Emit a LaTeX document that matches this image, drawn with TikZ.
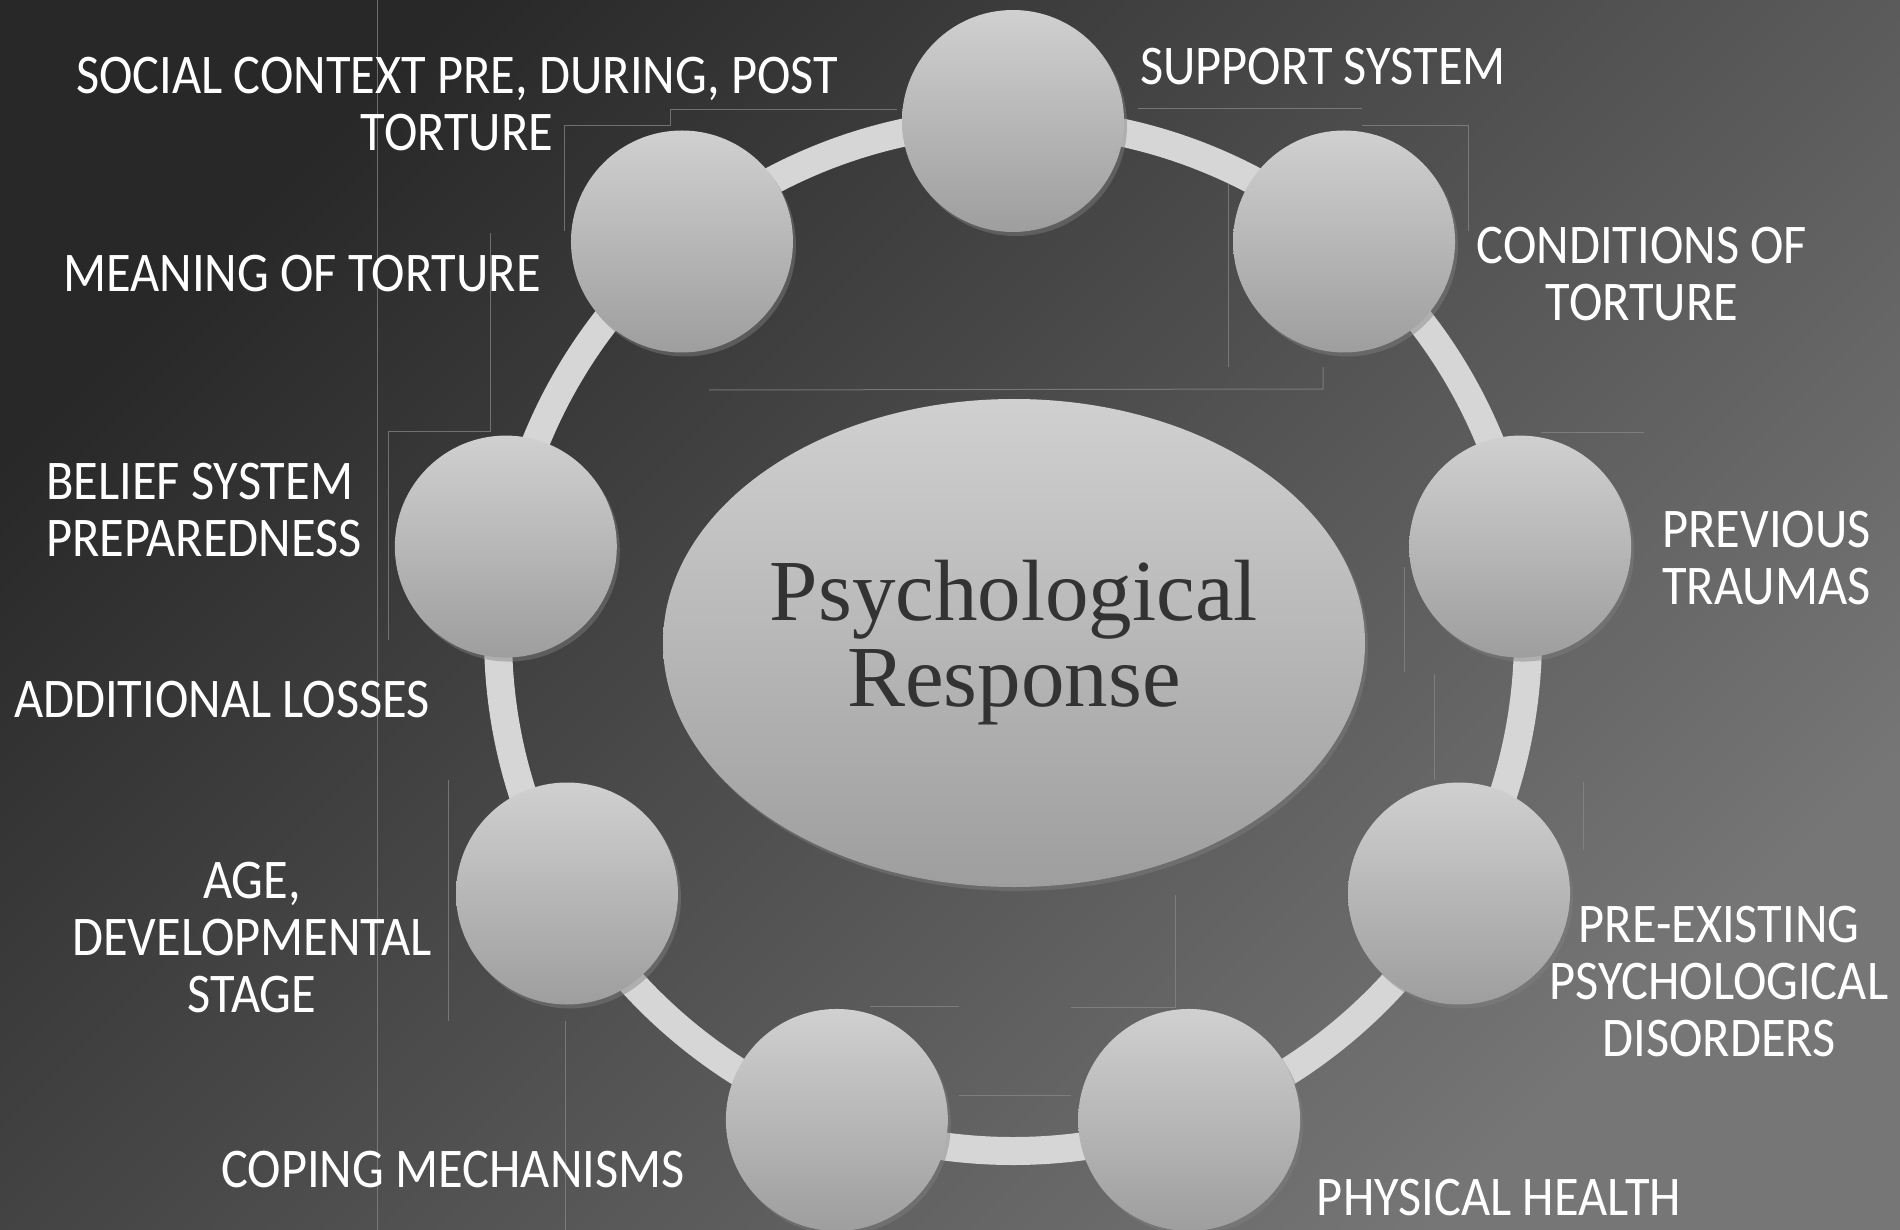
\documentclass[tikz,border=0pt]{standalone}
\usepackage{fontspec}
\setmainfont{Liberation Serif}
\newfontfamily\tagfont[FakeStretch=0.9]{Carlito}
\usepackage{tikz}
\usetikzlibrary{positioning, shapes.geometric, shadows}
\definecolor{bgdark}{HTML}{282828}
\definecolor{bglight}{HTML}{767676}
\definecolor{ballhi}{HTML}{D0D0D0}
\definecolor{balllo}{HTML}{9E9E9E}
\definecolor{ringgray}{HTML}{D6D6D6}
\definecolor{guidegray}{HTML}{8A8A8A}
\definecolor{titlegray}{HTML}{333333}
\tikzset{
  ball/.style={circle, minimum size=111pt, inner sep=0pt, top color=ballhi, bottom color=balllo,
    drop shadow={shadow xshift=1.5pt, shadow yshift=-2pt, opacity=0.45}},
  hub/.style={ellipse, minimum width=351pt, minimum height=244pt, inner sep=0pt,
    top color=ballhi, bottom color=balllo, text=titlegray, align=center,
    font=\fontsize{43.5}{43}\selectfont,
    drop shadow={shadow xshift=1.5pt, shadow yshift=-2pt, opacity=0.45}},
  tag/.style={text=white, align=center, inner sep=0pt, font=\tagfont\fontsize{28}{28.5}\selectfont},
  guide/.style={draw=guidegray, line width=0.5pt, opacity=0.7},
  ringline/.style={draw=ringgray, line width=14pt}
}
\begin{document}
\begin{tikzpicture}[x=0.5pt, y=-0.5pt]
  \useasboundingbox (0,0) rectangle (1900,1230);
  \shade[top color=bgdark, bottom color=bglight, shading angle=45] (0,0) rectangle (1900,1230);

  \draw[guide] (377,0) -- (377,1230);
  \draw[guide] (897,110) -- (670,110) -- (670,126) -- (564,126) -- (564,231);
  \draw[guide] (490,233) -- (490,431) -- (388,431) -- (388,640);
  \draw[guide] (709,390) -- (1323,389) -- (1323,367);
  \draw[guide] (1138,109) -- (1362,109);
  \draw[guide] (1362,126) -- (1468,126) -- (1468,231);
  \draw[guide] (1228,161) -- (1228,367);
  \draw[guide] (1541,432) -- (1644,432);
  \draw[guide] (1404,567) -- (1404,672);
  \draw[guide] (1434,674) -- (1434,780);
  \draw[guide] (1583,782) -- (1583,850);
  \draw[guide] (448,780) -- (448,1021);
  \draw[guide] (565,1021) -- (565,1230);
  \draw[guide] (870,1006) -- (959,1006);
  \draw[guide] (1071,1007) -- (1175,1007) -- (1175,895);
  \draw[guide] (959,1095) -- (1071,1095);

  \coordinate (ring) at (1013,636);
  \draw[ringline] (ring) circle[radius=257.5pt];
  \foreach \ang [count=\k] in {90,130,...,410}
    \node[ball] (ball\k) at ([shift={(\ang:257.5pt)}]ring) {};
  \node[hub] (hub) at (1014,643) {Psychological\\Response};

  \node[tag] (social) at (457,104) {SOCIAL CONTEXT PRE, DURING, POST\\TORTURE};
  \node[tag] (support) at (1323,67) {SUPPORT SYSTEM};
  \node[tag] (meaning) at (302,274) {MEANING OF TORTURE};
  \node[tag] (conditions) at (1642,274) {CONDITIONS OF\\TORTURE};
  \node[tag, align=left] (belief) at (204,510) {BELIEF SYSTEM\\PREPAREDNESS};
  \node[tag, align=left, anchor=west] (previous) at (1662,558) {PREVIOUS\\TRAUMAS};
  \node[tag] (losses) at (222,700) {ADDITIONAL LOSSES};
  \node[tag] (age) at (252,938) {AGE,\\DEVELOPMENTAL\\STAGE};
  \node[tag] (preexisting) at (1719,982) {PRE-EXISTING\\PSYCHOLOGICAL\\DISORDERS};
  \node[tag] (coping) at (453,1170) {COPING MECHANISMS};
  \node[tag] (physical) at (1499,1198) {PHYSICAL HEALTH};
\end{tikzpicture}
\end{document}
